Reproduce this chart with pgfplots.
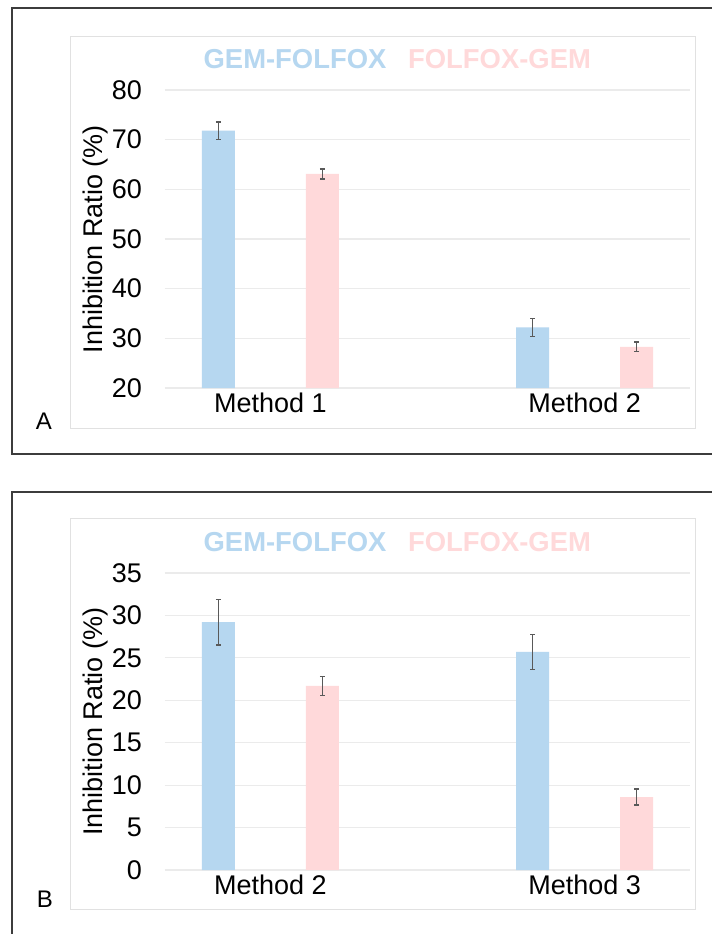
\documentclass[border=0pt]{standalone}
\usepackage{fontspec}
\setmainfont{Liberation Sans}
\usepackage{pgfplots}
\pgfplotsset{compat=1.18}
\definecolor{cblue}{RGB}{182,215,240}
\definecolor{cpink}{RGB}{255,217,218}
\definecolor{cgrid}{RGB}{235,235,235}
\definecolor{cbox}{RGB}{225,225,225}
\definecolor{cerr}{RGB}{89,89,89}
\definecolor{cframe}{RGB}{60,60,60}
\pgfplotsset{myaxis/.style={
  scale only axis, width=262.5pt, anchor=south west,
  xmin=-0.335, xmax=1.335, xtick={0,1},
  ymajorgrids, grid style={cgrid, line width=0.6pt},
  axis line style={draw=none}, tick style={draw=none},
  ticklabel style={font=\fontsize{13.5}{16}\selectfont},
  /pgf/number format/assume math mode=true,
  yticklabel style={xshift=-8pt},
  xticklabel style={yshift=1pt},
  ylabel={Inhibition Ratio (\%)},
  ylabel style={at={(axis description cs:-0.132,0.5)}, anchor=center, font=\fontsize{13.5}{16}\selectfont},
  clip=true},
  bluebar/.style={ybar, bar width=16.5pt, bar shift=0pt, fill=cblue, draw=none,
    error bars/.cd, y dir=both, y explicit,
    error bar style={draw=cerr, line width=0.7pt},
    error mark options={rotate=90, mark size=1.2pt, line width=0.7pt, draw=cerr}},
  pinkbar/.style={ybar, bar width=16.5pt, bar shift=0pt, fill=cpink, draw=none,
    error bars/.cd, y dir=both, y explicit,
    error bar style={draw=cerr, line width=0.7pt},
    error mark options={rotate=90, mark size=1.2pt, line width=0.7pt, draw=cerr}}
}
\begin{document}
\begin{tikzpicture}
\useasboundingbox (0,0) rectangle (356pt,-467pt);
\clip (0,0) rectangle (356pt,-467pt);
\fill[white] (0,0) rectangle (356pt,-467pt);
\draw[cframe, line width=1pt] (6pt,-4pt) rectangle (400pt,-227pt);
\draw[cframe, line width=1pt] (6pt,-246pt) rectangle (400pt,-520pt);
\draw[cbox, line width=0.5pt] (35pt,-18pt) rectangle (347.5pt,-214pt);
\draw[cbox, line width=0.5pt] (35pt,-259pt) rectangle (347.5pt,-454.5pt);

% Panel A
\begin{axis}[myaxis, at={(82.5pt,-194pt)}, height=149pt,
  ymin=20, ymax=80, ytick={20,30,...,80},
  xticklabels={Method 1, Method 2}]
\addplot[bluebar] coordinates {(-0.1656,71.8) +- (0,1.8) (0.8344,32.2) +- (0,1.8)};
\addplot[pinkbar] coordinates {(0.1656,63.1) +- (0,1.0) (1.1656,28.3) +- (0,1.0)};
\end{axis}

% Panel B
\begin{axis}[myaxis, at={(82.5pt,-435pt)}, height=148.5pt,
  ymin=0, ymax=35, ytick={0,5,...,35},
  xticklabels={Method 2, Method 3}]
\addplot[bluebar] coordinates {(-0.1656,29.2) +- (0,2.7) (0.8344,25.7) +- (0,2.05)};
\addplot[pinkbar] coordinates {(0.1656,21.7) +- (0,1.1) (1.1656,8.6) +- (0,0.95)};
\end{axis}

% legends
\node[font=\bfseries\fontsize{13.7}{16}\selectfont, text=cblue, inner sep=0pt] at (147.5pt,-29.75pt) {GEM-FOLFOX};
\node[font=\bfseries\fontsize{13.7}{16}\selectfont, text=cpink, inner sep=0pt] at (249.75pt,-29.75pt) {FOLFOX-GEM};
\node[font=\bfseries\fontsize{13.7}{16}\selectfont, text=cblue, inner sep=0pt] at (147.5pt,-271pt) {GEM-FOLFOX};
\node[font=\bfseries\fontsize{13.7}{16}\selectfont, text=cpink, inner sep=0pt] at (249.75pt,-271pt) {FOLFOX-GEM};
% panel letters
\node[font=\fontsize{12}{14}\selectfont, inner sep=0pt] at (22pt,-210.5pt) {A};
\node[font=\fontsize{12}{14}\selectfont, inner sep=0pt] at (22.5pt,-449.5pt) {B};
\end{tikzpicture}
\end{document}
